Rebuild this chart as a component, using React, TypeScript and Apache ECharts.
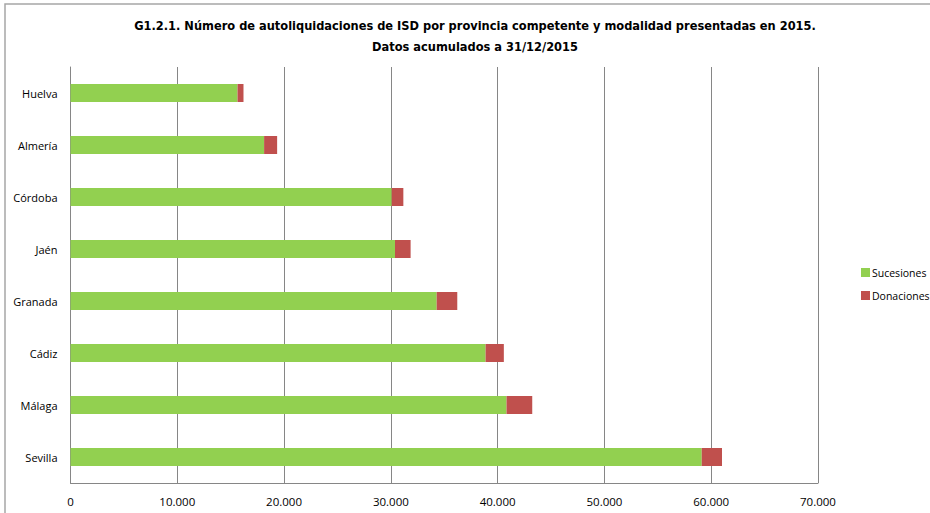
import React, { useEffect, useRef } from "react";
import * as echarts from "echarts";

const provinces = ["Huelva", "Almería", "Córdoba", "Jaén", "Granada", "Cádiz", "Málaga", "Sevilla"];
const sucesiones = [15640, 18130, 30080, 30390, 34290, 38870, 40830, 59110];
const donaciones = [560, 1220, 1090, 1460, 1930, 1710, 2410, 1900];
const xTicks = [0, 10000, 20000, 30000, 40000, 50000, 60000, 70000];

const titleLines = [
  "G1.2.1. Número de autoliquidaciones de ISD por provincia competente y modalidad presentadas en 2015.",
  "Datos acumulados a 31/12/2015",
];

const fmt = (v: number) => String(v).replace(/\B(?=(\d{3})+(?!\d))/g, ".");

export default function App() {
  const ref = useRef<HTMLDivElement>(null);
  useEffect(() => {
    if (!ref.current) return;
    const chart = echarts.init(ref.current, undefined, { renderer: "svg" });
    const labelFont = "'Open Sans', 'Noto Sans', sans-serif";
    chart.setOption({
      animation: false,
      backgroundColor: "#ffffff",
      title: {
        text: titleLines.join("\n"),
        left: 470,
        top: 10,
        textAlign: "center",
        textStyle: {
          fontFamily: "'DejaVu Sans Condensed', sans-serif",
          fontWeight: "bold",
          fontSize: 12.7,
          lineHeight: 21,
          color: "#000",
        },
      },
      graphic: [
        {
          type: "rect",
          shape: { x: 5, y: 4, width: 960, height: 560 },
          style: { fill: "none", stroke: "#a6a6a6", lineWidth: 1.5 },
          silent: true,
        },
      ],
      legend: {
        orient: "vertical",
        left: 856,
        top: 262,
        itemWidth: 9,
        itemHeight: 9,
        itemGap: 12,
        icon: "rect",
        textStyle: { fontFamily: labelFont, fontSize: 10.5, color: "#000", padding: [0, 0, 0, -3] },
        data: ["Sucesiones", "Donaciones"],
      },
      grid: { left: 70.5, right: 112, top: 67, bottom: 30, containLabel: false },
      xAxis: {
        type: "value",
        min: xTicks[0],
        max: xTicks[xTicks.length - 1],
        interval: 10000,
        axisLine: { show: true, lineStyle: { color: "#868686" } },
        axisTick: { show: false },
        splitLine: { show: true, lineStyle: { color: "#868686", width: 1 } },
        axisLabel: {
          margin: 12,
          fontFamily: labelFont,
          fontSize: 11.5,
          color: "#000",
          formatter: (v: number) => fmt(v),
        },
      },
      yAxis: {
        type: "category",
        inverse: true,
        data: provinces,
        axisLine: { show: true, lineStyle: { color: "#868686" } },
        axisTick: { show: false },
        axisLabel: { margin: 13, fontFamily: labelFont, fontSize: 11, color: "#000" },
      },
      series: [
        {
          name: "Sucesiones",
          type: "bar",
          stack: "t",
          barWidth: 18,
          itemStyle: { color: "#92D050" },
          data: sucesiones,
        },
        {
          name: "Donaciones",
          type: "bar",
          stack: "t",
          barWidth: 18,
          itemStyle: { color: "#C0504D" },
          data: donaciones,
        },
      ],
    });
    return () => chart.dispose();
  }, []);
  return (
    <div
      ref={ref}
      style={{ position: "fixed", left: 0, top: 0, width: 930, height: 513 }}
    />
  );
}
